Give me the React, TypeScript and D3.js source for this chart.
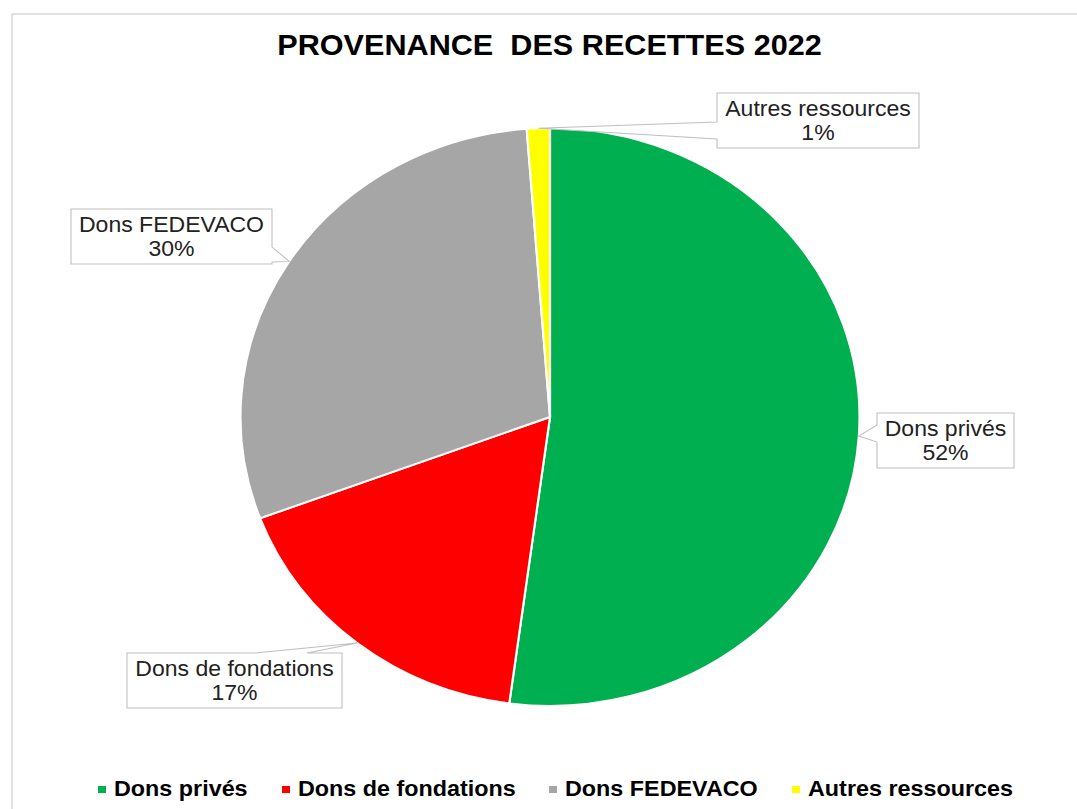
import * as d3 from "d3";

const categories = ["Dons privés", "Dons de fondations", "Dons FEDEVACO", "Autres ressources"];
const values = [52.1, 17.2, 29.5, 1.2];
const percentLabels = ["52%", "17%", "30%", "1%"];
const colors = ["#00b050", "#ff0000", "#a6a6a6", "#ffff00"];
const title = "PROVENANCE  DES RECETTES 2022";

// the reference is stretched horizontally
const SX = 1.071;
const X = (v: number) => v / SX;

const width = 1077;
const height = 809;
const cx = 550;
const cy = 417;
const radius = 289;

type Side = "left" | "right" | "top";
// callout boxes, in reference pixels
const boxes: { x: number; y: number; w: number; h: number; side: Side; b0: number; b1: number }[] = [
  { x: 877, y: 413, w: 137, h: 55, side: "left", b0: 425, b1: 442 },
  { x: 127, y: 653, w: 215, h: 55, side: "top", b0: 255, b1: 307 },
  { x: 71, y: 209, w: 201, h: 55, side: "right", b0: 247, b1: 262 },
  { x: 717, y: 93, w: 202, h: 55, side: "left", b0: 122, b1: 139 },
];
const legendSwatchX = [98, 282, 549, 792];

const font = "'Liberation Sans', Arial, sans-serif";

function calloutPath(b: (typeof boxes)[number], tip: [number, number]) {
  const { x, y, w, h } = b;
  let pts: [number, number][];
  if (b.side === "left") {
    pts = [[x, y], [x + w, y], [x + w, y + h], [x, y + h], [x, b.b1], tip, [x, b.b0]];
  } else if (b.side === "right") {
    pts = [[x, y], [x + w, y], [x + w, b.b0], tip, [x + w, b.b1], [x + w, y + h], [x, y + h]];
  } else {
    pts = [[x, y], [b.b0, y], tip, [b.b1, y], [x + w, y], [x + w, y + h], [x, y + h]];
  }
  return "M" + pts.map(([px, py]) => `${X(px)},${py}`).join("L") + "Z";
}

export default function App() {
  const pie = d3.pie<number>().sort(null).value((d) => d);
  const arcs = pie(values);
  const arc = d3.arc<d3.PieArcDatum<number>>().innerRadius(0).outerRadius(radius);

  return (
    <svg width={width} height={height} style={{ position: "absolute", left: 0, top: 0, background: "#fff" }}>
      <path d="M12,809 L12,14 L1077,14" fill="none" stroke="#d9d9d9" strokeWidth={1.5} />
      <g transform={`scale(${SX},1)`}>
        <text
          x={X(549.5)}
          y={55}
          textAnchor="middle"
          fontFamily={font}
          fontWeight="bold"
          fontSize={28.6}
          style={{ whiteSpace: "pre" }}
          fill="#000"
        >
          {title}
        </text>
        <g transform={`translate(${X(cx)},${cy})`}>
          {arcs.map((a, i) => (
            <path key={i} d={arc(a) as string} fill={colors[i]} stroke="#fff" strokeWidth={2} />
          ))}
        </g>
        {arcs.map((a, i) => {
          const mid = (a.startAngle + a.endAngle) / 2;
          const tip: [number, number] = [cx + radius * SX * Math.sin(mid), cy - radius * Math.cos(mid)];
          const b = boxes[i];
          const mx = X(b.x + b.w / 2);
          return (
            <g key={i}>
              <path d={calloutPath(b, tip)} fill="#fff" stroke="#bfbfbf" strokeWidth={1} />
              <text x={mx} y={b.y + 23} textAnchor="middle" fontFamily={font} fontSize={21.5} fill="#222">
                {categories[i]}
              </text>
              <text x={mx} y={b.y + 47} textAnchor="middle" fontFamily={font} fontSize={21.5} fill="#222">
                {percentLabels[i]}
              </text>
            </g>
          );
        })}
        {categories.map((c, i) => (
          <g key={c}>
            <rect x={X(legendSwatchX[i])} y={786} width={X(8)} height={7} fill={colors[i]} />
            <text
              x={X(legendSwatchX[i] + 16)}
              y={796}
              fontFamily={font}
              fontWeight="bold"
              fontSize={21.8}
              fill="#000"
            >
              {c}
            </text>
          </g>
        ))}
      </g>
    </svg>
  );
}
